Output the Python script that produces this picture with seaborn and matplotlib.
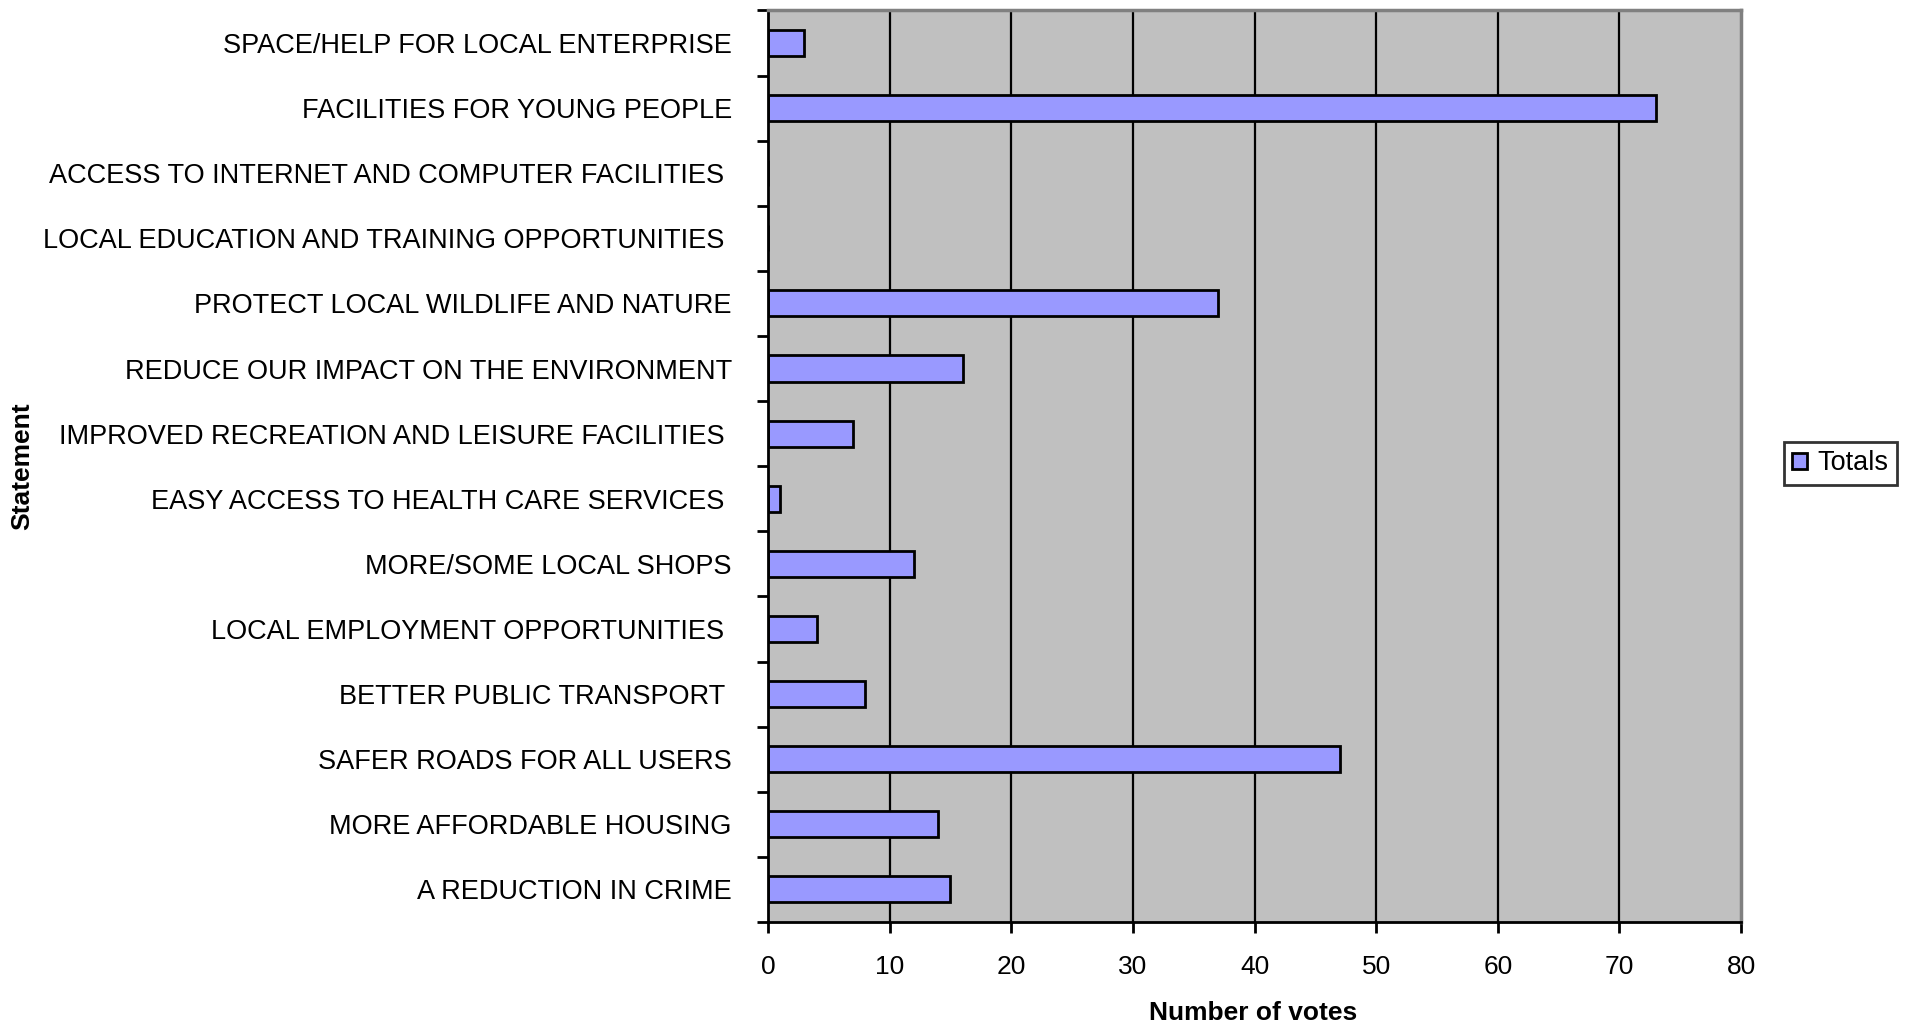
import matplotlib
matplotlib.use("Agg")
import matplotlib.pyplot as plt
import seaborn as sns
import pandas as pd
from matplotlib.patches import Patch

sns.set_theme(style="white")
plt.rcParams['font.family'] = ['Liberation Sans', 'DejaVu Sans']
plt.rcParams['text.color'] = 'black'
plt.rcParams['xtick.color'] = 'black'
plt.rcParams['ytick.color'] = 'black'
plt.rcParams['axes.labelcolor'] = 'black'

# Survey results, top to bottom as shown
statements = [
    "SPACE/HELP FOR LOCAL ENTERPRISE",
    "FACILITIES FOR YOUNG PEOPLE",
    "ACCESS TO INTERNET AND COMPUTER FACILITIES ",
    "LOCAL EDUCATION AND TRAINING OPPORTUNITIES ",
    "PROTECT LOCAL WILDLIFE AND NATURE",
    "REDUCE OUR IMPACT ON THE ENVIRONMENT",
    "IMPROVED RECREATION AND LEISURE FACILITIES ",
    "EASY ACCESS TO HEALTH CARE SERVICES ",
    "MORE/SOME LOCAL SHOPS",
    "LOCAL EMPLOYMENT OPPORTUNITIES ",
    "BETTER PUBLIC TRANSPORT ",
    "SAFER ROADS FOR ALL USERS",
    "MORE AFFORDABLE HOUSING",
    "A REDUCTION IN CRIME",
]
totals = [3, 73, 0, 0, 37, 16, 7, 1, 12, 4, 8, 47, 14, 15]
x_ticks = [0, 10, 20, 30, 40, 50, 60, 70, 80]

df = pd.DataFrame({"Statement": statements, "Totals": totals})

fig = plt.figure(figsize=(19.07, 10.30), dpi=100)
ax = fig.add_axes([0.4027, 0.1049, 0.5103, 0.885])
ax.set_facecolor("#C0C0C0")

# Vertical gridlines behind the bars
for v in x_ticks[1:-1]:
    ax.axvline(v, color="black", linewidth=1.6, zorder=0)

sns.barplot(data=df, x="Totals", y="Statement", orient="h", color="#9999FF",
            saturation=1, width=0.4, edgecolor="black", linewidth=2, ax=ax, zorder=2)

ax.set_xlim(0, 80)
ax.set_ylim(len(statements) - 0.5, -0.5)
ax.set_xticks(x_ticks)
ax.set_xticklabels([str(v) for v in x_ticks], fontsize=19)

# Excel-style ticks between categories, labels at centres
ax.set_yticks(range(len(statements)))
ax.set_yticklabels(statements, fontsize=19.5)
ax.set_yticks([i - 0.5 for i in range(len(statements) + 1)], minor=True)
ax.tick_params(axis="y", which="major", length=0, pad=26)
ax.tick_params(axis="y", which="minor", left=True, length=8, width=2, color="black")
ax.tick_params(axis="x", which="major", bottom=True, length=8, width=2, color="black", pad=16)

for side in ["left", "bottom"]:
    ax.spines[side].set_color("black")
    ax.spines[side].set_linewidth(2)
for side in ["top", "right"]:
    ax.spines[side].set_color("#808080")
    ax.spines[side].set_linewidth(2.5)

ax.set_xlabel("")
ax.set_ylabel("")
fig.text(0.657, 0.0165, "Number of votes", fontsize=19, fontweight="bold",
         ha="center", va="center")
fig.text(0.0115, 0.547, "Statement", fontsize=19, fontweight="bold",
         rotation=90, ha="center", va="center")

handle = Patch(facecolor="#9999FF", edgecolor="black", linewidth=2)
leg = fig.legend([handle], ["Totals"], loc="center right", bbox_to_anchor=(0.9945, 0.55),
                 fontsize=19.5, frameon=True, fancybox=False, handlelength=0.55,
                 handleheight=0.55, handletextpad=0.4, borderpad=0.3, borderaxespad=0)
leg.get_frame().set_edgecolor("black")
leg.get_frame().set_linewidth(2)

fig.savefig("out.png", dpi=100, facecolor="white")
